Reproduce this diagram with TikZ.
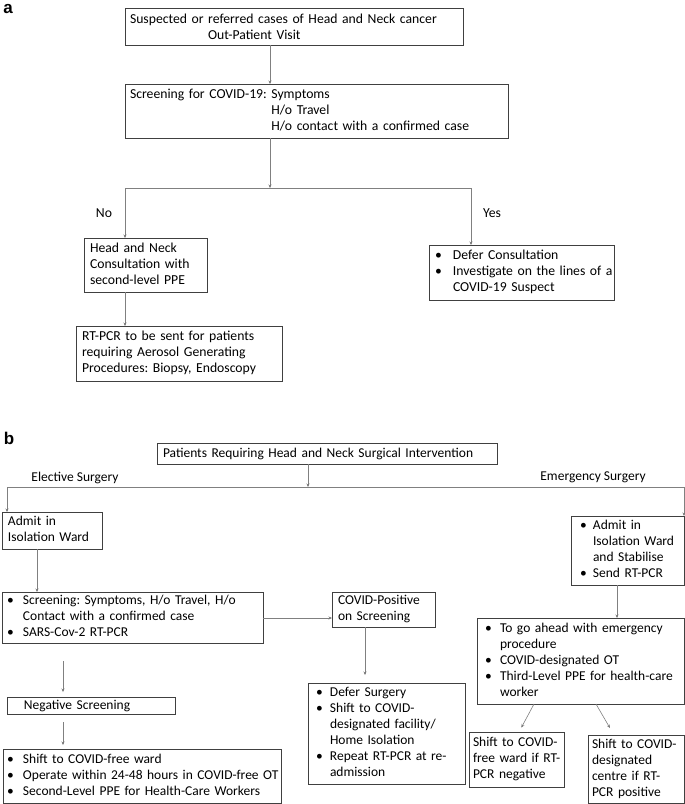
\documentclass[tikz,border=0pt]{standalone}
\usepackage{fontspec}
\setmainfont{Carlito}
\newfontfamily\lblfont{Liberation Sans}
\usetikzlibrary{arrows.meta}
\newcommand{\bu}{\textbullet}
\newcommand{\fsa}{\fontsize{13.7}{16}\selectfont\frenchspacing}
\newcommand{\fs}{\fontsize{13.5}{16}\selectfont\frenchspacing}
\begin{document}
\begin{tikzpicture}[x=1pt,y=-1pt,
  bx/.style={draw=black!75, line width=0.7pt, anchor=north west, inner ysep=0pt, outer sep=0pt, align=left, font=\fs},
  ln/.style={draw=black!50, line width=0.6pt},
  ar/.style={ln, -{Stealth[length=3.5pt,width=3pt,fill=black]}},
  lbl/.style={font=\fs, inner sep=0pt},
  pl/.style={font=\lblfont\bfseries\fontsize{17}{17}\selectfont, inner sep=0pt}
]
\useasboundingbox (0,0) rectangle (685,804);

% ---------------- panel a ----------------
\node[pl] (la) at (8,9) {a};

\node[bx, font=\fsa, minimum width=338pt, minimum height=37pt, text width=328pt, inner xsep=5pt] (a1) at (125,8)
  {Suspected or referred cases of Head and Neck cancer\\\hspace*{78pt}Out-Patient Visit};

\node[bx, font=\fsa, minimum width=383pt, minimum height=54pt, text width=373pt, inner xsep=5pt] (a2) at (125,84)
  {\begin{tabular}{@{}l@{}l@{}}Screening for COVID-19:\ \mbox{} & Symptoms\\ & H/o Travel\\ & H/o contact with a confirmed case\end{tabular}};

\node[bx, font=\fsa, minimum width=123pt, minimum height=54pt, text width=111pt, inner xsep=6pt] (b1) at (84,238)
  {\begin{tabular}{@{}l@{}}Head and Neck\\Consultation with\\second-level PPE\end{tabular}};

\node[bx, font=\fsa, minimum width=185pt, minimum height=55pt, text width=173pt, inner xsep=6pt] (b2) at (429,245)
  {\begin{tabular}{@{}p{18pt}@{}l@{}}\bu & Defer Consultation\\ \bu & Investigate on the lines of a\\ & COVID-19 Suspect\end{tabular}};

\node[bx, font=\fsa, minimum width=206pt, minimum height=55pt, text width=194pt, inner xsep=6pt] (c1) at (76,326)
  {\begin{tabular}{@{}l@{}}RT-PCR to be sent for patients\\requiring Aerosol Generating\\Procedures: Biopsy, Endoscopy\end{tabular}};

\coordinate (br) at (270,188);
\coordinate (brl) at (125,188);
\coordinate (brr) at (471,188);

\draw[ar] ([xshift=145pt]a1.south west) -- ([xshift=145pt]a2.north west);
\draw[ar] ([xshift=145pt]a2.south west) -- (br);
\draw[ln] (brl) -- (brr);
\draw[ar] (brl) -- (brl |- b1.north);
\draw[ar] (brr) -- (brr |- b2.north);
\draw[ar] ([xshift=41pt]b1.south west) -- ([xshift=41pt]b1.south west |- c1.north);

\node[lbl, font=\fsa] (no) at (104,213) {No};
\node[lbl, font=\fsa] (yes) at (492,213) {Yes};

% ---------------- panel b ----------------
\node[pl] (lb) at (9,438) {b};

\node[bx, minimum width=340pt, minimum height=21pt, text width=328pt, inner xsep=6pt] (p1) at (157,443)
  {Patients Requiring Head and Neck Surgical Intervention};

\coordinate (bj) at (308,487);
\coordinate (bl) at (7,487);
\coordinate (bR) at (684,487);
\draw[ar] (bj |- p1.south) -- (bj);
\draw[ln] (bl) -- (bR);

\node[lbl] (el) at (75,478) {Elective Surgery};
\node[lbl] (em) at (593,477) {Emergency Surgery};

\node[bx, minimum width=100pt, minimum height=37pt, text width=88pt, inner xsep=6pt] (e1) at (2,512)
  {\begin{tabular}{@{}l@{}}Admit in\\Isolation Ward\end{tabular}};

\node[bx, minimum width=113pt, minimum height=69pt, text width=95pt, inner xsep=9pt] (r1) at (571,516)
  {\begin{tabular}{@{}p{13pt}@{}l@{}}\bu & Admit in\\ & Isolation Ward\\ & and Stabilise\\ \bu & Send RT-PCR\end{tabular}};

\draw[ar] (bl) -- (bl |- e1.north);
\draw[ar] (bR) -- (bR |- r1.north);

\node[bx, minimum width=261pt, minimum height=51pt, text width=251pt, inner xsep=5pt] (s1) at (2,592)
  {\begin{tabular}{@{}p{16pt}@{}l@{}}\bu & Screening: Symptoms, H/o Travel, H/o\\ & Contact with a confirmed case\\ \bu & SARS-Cov-2 RT-PCR\end{tabular}};

\node[bx, minimum width=103pt, minimum height=35pt, text width=91pt, inner xsep=6pt] (cp) at (332,592)
  {\begin{tabular}{@{}l@{}}COVID-Positive\\on Screening\end{tabular}};

\node[bx, minimum width=157pt, minimum height=101pt, text width=141pt, inner xsep=8pt] (d1) at (308,683)
  {\begin{tabular}{@{}p{14pt}@{}l@{}}\bu & Defer Surgery\\ \bu & Shift to COVID-\\ & designated facility/\\ & Home Isolation\\ \bu & Repeat RT-PCR at re-\\ & admission\end{tabular}};

\node[bx, minimum width=168pt, minimum height=17pt, text width=150pt, inner xsep=9pt] (ns) at (7,697)
  {\hspace*{8pt}Negative Screening};

\node[bx, minimum width=278pt, minimum height=54pt, text width=270pt, inner xsep=4pt] (bt) at (3,749)
  {\begin{tabular}{@{}p{16pt}@{}l@{}}\bu & Shift to COVID-free ward\\ \bu & Operate within 24-48 hours in COVID-free OT\\ \bu & Second-Level PPE for Health-Care Workers\end{tabular}};

\node[bx, minimum width=207pt, minimum height=86pt, text width=191pt, inner xsep=8pt] (r2) at (477,618)
  {\begin{tabular}{@{}p{15pt}@{}l@{}}\bu & To go ahead with emergency\\ & procedure\\ \bu & COVID-designated OT\\ \bu & Third-Level PPE for health-care\\ & worker\end{tabular}};

\node[bx, minimum width=95pt, minimum height=55pt, text width=87pt, inner xsep=4pt] (r3a) at (469,732)
  {\begin{tabular}{@{}l@{}}Shift to COVID-\\free ward if RT-\\PCR negative\end{tabular}};

\node[bx, minimum width=96pt, minimum height=68pt, text width=88pt, inner xsep=4pt] (r3b) at (588,735)
  {\begin{tabular}{@{}l@{}}Shift to COVID-\\designated\\centre if RT-\\PCR positive\end{tabular}};

\draw[ar] ([xshift=35pt]e1.south west) -- ([xshift=35pt]e1.south west |- s1.north);
\draw[ar] (s1.east |- 0,618) -- (cp.west |- 0,618);
\draw[ar, shorten >=8pt] ([xshift=33pt]cp.south west) -- ([xshift=33pt]cp.south west |- d1.north);
\draw[ar, shorten <=18pt, shorten >=5pt] ([xshift=61pt]s1.south west) -- ([xshift=61pt]s1.south west |- ns.north);
\draw[ar, shorten <=8pt, shorten >=4pt] ([xshift=56pt]ns.south west) -- ([xshift=56pt]ns.south west |- bt.north);
\draw[ar] ([xshift=46pt]r1.south west) -- ([xshift=46pt]r1.south west |- r2.north);
\draw[ar, shorten >=5pt] ([xshift=57pt]r2.south west) -- ([xshift=50pt]r3a.north west);
\draw[ar, shorten >=8pt] ([xshift=119pt]r2.south west) -- ([xshift=26pt]r3b.north west);
\end{tikzpicture}
\end{document}
